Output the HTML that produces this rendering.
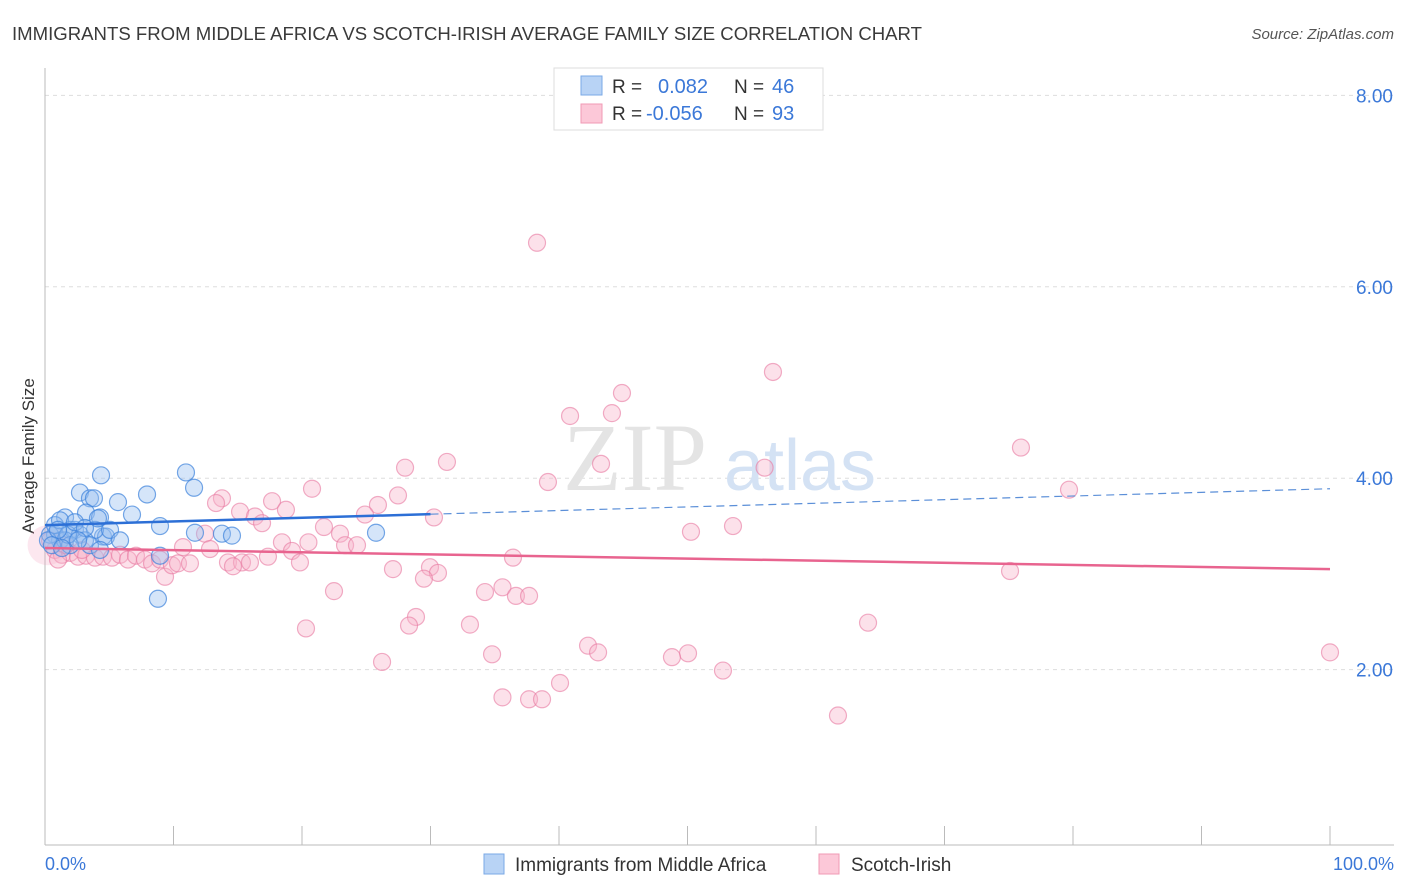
<!DOCTYPE html>
<html><head><meta charset="utf-8">
<style>
body{margin:0;background:#fff;font-family:"Liberation Sans",sans-serif;}
svg{display:block}
</style></head>
<body>
<svg width="1406" height="892" viewBox="0 0 1406 892" xmlns="http://www.w3.org/2000/svg">
<text x="12" y="40" font-size="18" fill="#3a3a3a" textLength="910" lengthAdjust="spacingAndGlyphs">IMMIGRANTS FROM MIDDLE AFRICA VS SCOTCH-IRISH AVERAGE FAMILY SIZE CORRELATION CHART</text>
<text x="1394" y="39" font-size="15" fill="#555" font-style="italic" text-anchor="end">Source: ZipAtlas.com</text>
<g id="grid"></g>
<g>
<text x="635" y="490" font-size="96" font-family="Liberation Serif,serif" fill="#e4e4e4" text-anchor="middle">ZIP</text>
<text x="800" y="490" font-size="72" fill="#d4e2f4" text-anchor="middle">atlas</text>
</g>
<line x1="45" y1="68" x2="45" y2="845" stroke="#bbb"/>
<line x1="45" y1="845" x2="1394" y2="845" stroke="#bbb"/>
<g id="ticks"></g>
<g id="ylabels"></g>
<text x="34" y="456" font-size="17" fill="#333" text-anchor="middle" transform="rotate(-90 34 456)">Average Family Size</text>
<text x="45" y="870" font-size="18" fill="#3b78d8">0.0%</text>
<text x="1394" y="870" font-size="18" fill="#3b78d8" text-anchor="end">100.0%</text>
<g id="pinkpts"></g>
<g id="bluepts"></g>
<g id="trends"></g>
<g>
<rect x="554" y="68" width="269" height="62" fill="#fff" stroke="#ddd"/>
<rect x="581" y="76" width="21" height="19" fill="#b8d3f5" stroke="#7aa8e6"/>
<rect x="581" y="104" width="21" height="19" fill="#fcc8d8" stroke="#f09ab5"/>
<text x="612" y="93" font-size="19" fill="#333">R = </text>
<text x="658" y="93" font-size="20" fill="#3b78d8">0.082</text>
<text x="734" y="93" font-size="19" fill="#333">N = </text>
<text x="772" y="93" font-size="20" fill="#3b78d8">46</text>
<text x="612" y="120" font-size="19" fill="#333">R = </text>
<text x="646" y="120" font-size="20" fill="#3b78d8">-0.056</text>
<text x="734" y="120" font-size="19" fill="#333">N = </text>
<text x="772" y="120" font-size="20" fill="#3b78d8">93</text>
</g>
<g>
<rect x="484" y="854" width="20" height="20" fill="#b8d3f5" stroke="#7aa8e6"/>
<text x="515" y="871" font-size="19" fill="#333">Immigrants from Middle Africa</text>
<rect x="819" y="854" width="20" height="20" fill="#fcc8d8" stroke="#f09ab5"/>
<text x="851" y="871" font-size="19" fill="#333">Scotch-Irish</text>
</g>
</svg>
<script>
const yTicks=[2,4,6,8];
const yTickLabels=["2.00","4.00","6.00","8.00"];
const xTicks=[0,10,20,30,40,50,60,70,80,90,100];
const blueX=[4.36,10.97,2.72,3.50,3.81,5.68,7.94,11.60,1.56,3.19,4.28,6.77,8.95,13.77,25.76,14.55,4.51,4.75,8.79,8.95,1.95,2.33,0.78,1.17,1.56,0.39,0.23,2.72,3.89,3.11,3.50,4.28,0.78,1.17,1.95,1.79,1.01,2.33,3.11,5.06,0.54,1.32,5.84,11.67,4.12,2.57];
const blueY=[4.03,4.06,3.85,3.79,3.79,3.75,3.83,3.90,3.59,3.64,3.59,3.62,3.50,3.42,3.43,3.40,3.39,3.39,2.74,3.19,3.46,3.46,3.41,3.35,3.35,3.41,3.35,3.41,3.46,3.35,3.30,3.25,3.51,3.56,3.30,3.41,3.46,3.54,3.48,3.46,3.30,3.27,3.35,3.43,3.58,3.35];
const pinkX=[38.29,56.65,44.9,40.86,44.12,75.95,31.28,28.02,43.27,56.0,39.14,20.78,79.69,13.77,13.31,17.67,27.47,25.91,15.18,18.75,16.34,24.9,30.27,16.89,21.71,12.45,50.27,53.54,22.96,20.5,18.44,23.35,24.28,10.74,12.84,19.22,17.35,19.84,14.24,15.33,15.95,14.63,36.42,27.08,29.96,30.58,29.49,75.1,9.34,35.6,34.24,36.65,37.67,22.49,28.87,28.33,20.31,33.07,64.05,42.26,43.04,34.79,50.04,48.79,100,26.23,52.76,40.08,35.6,37.67,38.68,61.71,0.78,1.32,1.95,2.57,3.19,3.89,4.51,5.21,5.84,6.46,7.08,7.78,8.33,8.95,9.88,10.35,11.28,1.56,1.01,2.88,0.39];
const pinkY=[6.46,5.11,4.89,4.65,4.68,4.32,4.17,4.11,4.15,4.11,3.96,3.89,3.88,3.79,3.74,3.76,3.82,3.72,3.65,3.67,3.60,3.62,3.59,3.53,3.49,3.42,3.44,3.50,3.42,3.33,3.33,3.30,3.30,3.28,3.26,3.24,3.18,3.12,3.12,3.12,3.12,3.08,3.17,3.05,3.07,3.01,2.95,3.03,2.97,2.86,2.81,2.77,2.77,2.82,2.55,2.46,2.43,2.47,2.49,2.25,2.18,2.16,2.17,2.13,2.18,2.08,1.99,1.86,1.71,1.69,1.69,1.52,3.25,3.20,3.22,3.18,3.19,3.17,3.18,3.17,3.20,3.15,3.19,3.15,3.11,3.15,3.09,3.11,3.11,3.30,3.15,3.25,3.35];
const blueTrend=[3.51,3.89];
const pinkTrend=[3.27,3.05];
const blueSolidEnd=30;

const NS="http://www.w3.org/2000/svg";
function sx(v){return 45+v*12.85;}
function sy(v){return 861-v*95.7;}
function mk(tag,attrs,parent){const e=document.createElementNS(NS,tag);for(const k in attrs)e.setAttribute(k,attrs[k]);parent.appendChild(e);return e;}
const grid=document.getElementById('grid'),ticks=document.getElementById('ticks'),yl=document.getElementById('ylabels');
yTicks.forEach((t,i)=>{
  const l=mk('line',{x1:45,x2:1394,y1:sy(t),y2:sy(t),stroke:'#ddd','stroke-dasharray':'4,4'},grid);
  
  
  const tx=mk('text',{x:1393,y:sy(t)+7,'font-size':19,fill:'#3b78d8','text-anchor':'end'},yl);
  tx.textContent=yTickLabels[i];
  
  
});
xTicks.forEach(t=>{
  const l=mk('line',{x1:sx(t),x2:sx(t),y1:826,y2:845,stroke:'#bbb'},ticks);
  
  
});
const pp=document.getElementById('pinkpts');
const big=mk('circle',{cx:sx(0.2),cy:sy(3.3),r:20,fill:'rgba(245,160,190,0.25)',stroke:'none'},pp);


pinkX.forEach((x,i)=>{
  const c=mk('circle',{cx:sx(x),cy:sy(pinkY[i]),r:8.5,fill:'rgba(248,180,203,0.4)',stroke:'rgba(232,120,160,0.6)','stroke-width':1.2},pp);
  
  
});
const bp=document.getElementById('bluepts');
blueX.forEach((x,i)=>{
  const c=mk('circle',{cx:sx(x),cy:sy(blueY[i]),r:8.5,fill:'rgba(150,190,240,0.4)',stroke:'rgba(60,130,220,0.7)','stroke-width':1.2},bp);
  
  
});
const tr=document.getElementById('trends');
function ty(tv,x){return tv[0]+(tv[1]-tv[0])*x/100;}
let a=mk('line',{x1:sx(0),y1:sy(ty(blueTrend,0)),x2:sx(blueSolidEnd),y2:sy(ty(blueTrend,blueSolidEnd)),stroke:'#2c6fd6','stroke-width':2.5},tr);


a=mk('line',{x1:sx(blueSolidEnd),y1:sy(ty(blueTrend,blueSolidEnd)),x2:sx(100),y2:sy(ty(blueTrend,100)),stroke:'#5b8fd8','stroke-width':1.2,'stroke-dasharray':'8,5'},tr);


a=mk('line',{x1:sx(0),y1:sy(ty(pinkTrend,0)),x2:sx(100),y2:sy(ty(pinkTrend,100)),stroke:'#e8648f','stroke-width':2.5},tr);


</script>
</body></html>
